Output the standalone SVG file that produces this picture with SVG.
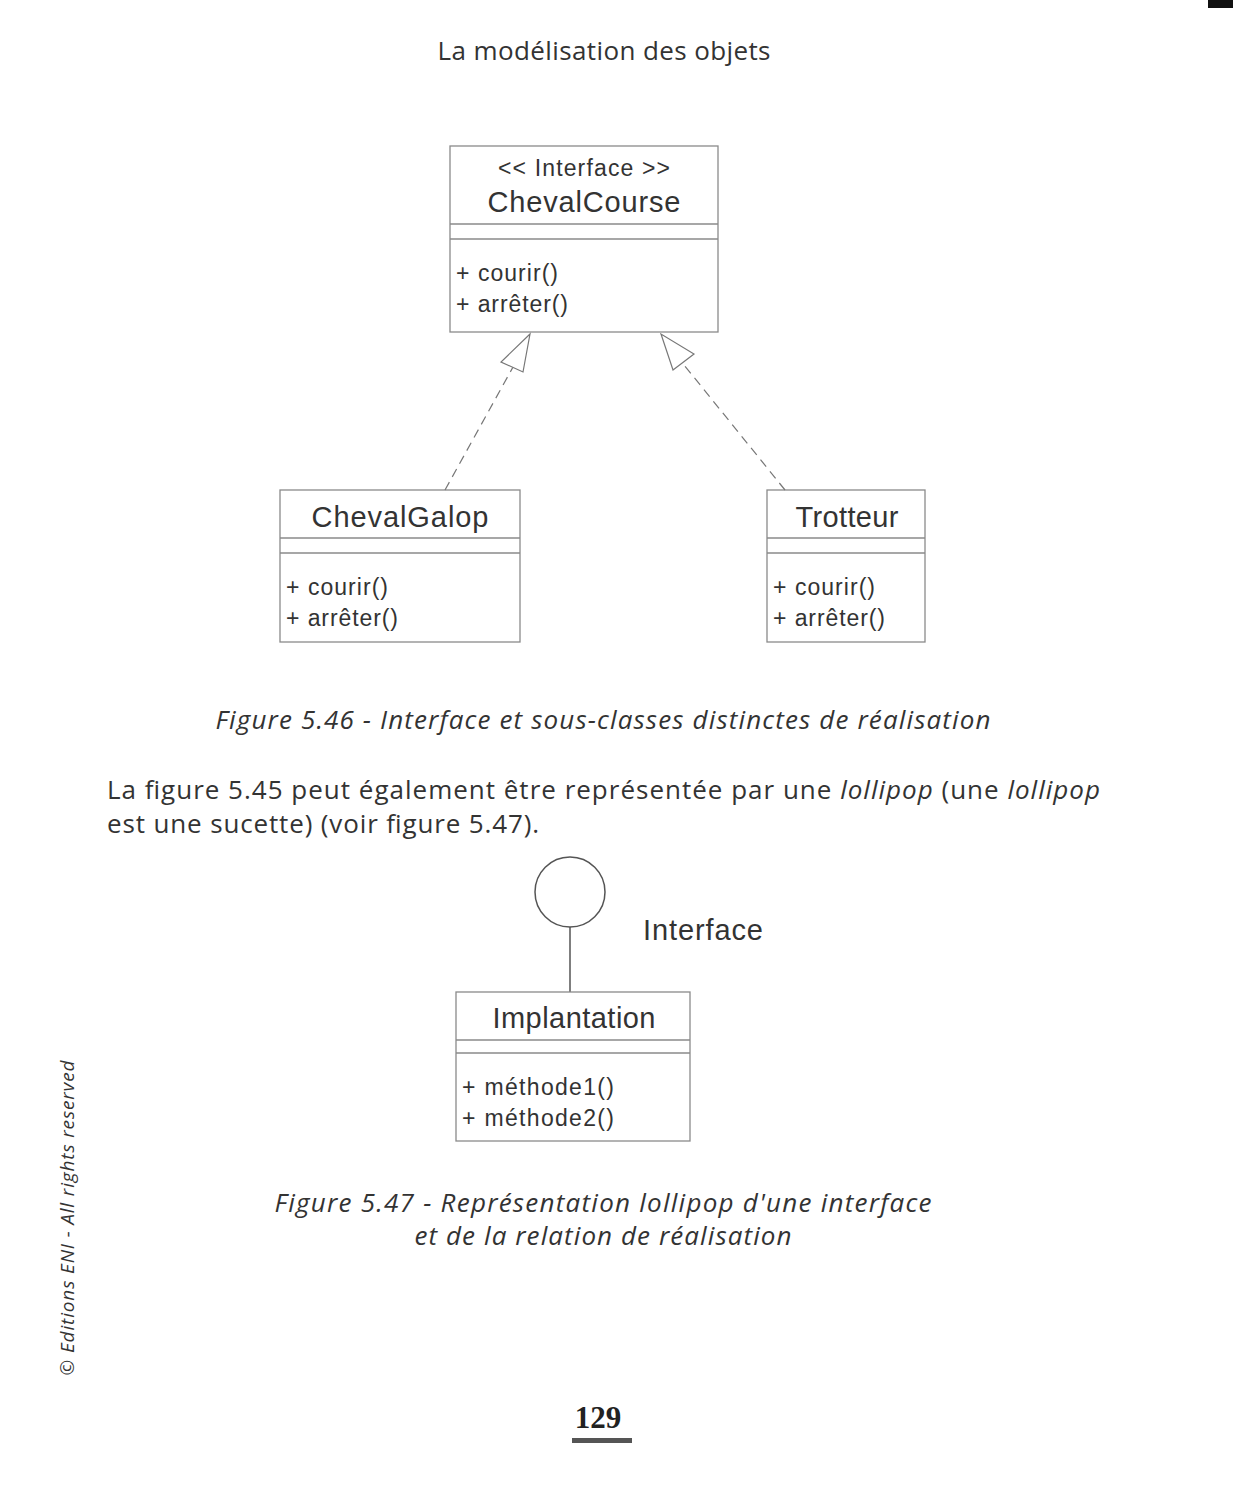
<svg xmlns="http://www.w3.org/2000/svg" width="1233" height="1500" viewBox="0 0 1233 1500">
<defs>
<style>
.box{fill:#fff;stroke:#8a8a8a;stroke-width:1.3}
.sep{stroke:#8a8a8a;stroke-width:1.3}
.t{font-family:"Liberation Sans",Arial,sans-serif;fill:#333}
.title{font-size:29px;text-anchor:middle}
.m{font-size:23px}
.page{font-family:"Open Sans","Noto Sans",sans-serif;fill:#333}
.cap{font-style:italic;font-size:26px;text-anchor:middle}
.dash{fill:none;stroke:#777;stroke-width:1.2;stroke-dasharray:9 6}
.head{fill:#fff;stroke:#777;stroke-width:1.2}
</style>
</defs>
<rect width="1233" height="1500" fill="#fff"/>
<rect x="1208" y="0" width="25" height="8" fill="#111"/>
<text class="page" x="604" y="60" font-size="26" text-anchor="middle" textLength="333">La modélisation des objets</text>

<g id="ChevalCourse">
<rect class="box" x="450" y="146" width="268" height="186"/>
<line class="sep" x1="450" y1="224" x2="718" y2="224"/>
<line class="sep" x1="450" y1="239" x2="718" y2="239"/>
<text class="t" x="584" y="176" font-size="23" text-anchor="middle" textLength="172">&lt;&lt; Interface &gt;&gt;</text>
<text class="t title" x="584" y="212" textLength="193">ChevalCourse</text>
<text class="t m" x="456" y="281" textLength="102">+ courir()</text>
<text class="t m" x="456" y="312" textLength="112">+ arrêter()</text>
</g>

<g id="ChevalGalop">
<rect class="box" x="280" y="490" width="240" height="152"/>
<line class="sep" x1="280" y1="538" x2="520" y2="538"/>
<line class="sep" x1="280" y1="553" x2="520" y2="553"/>
<text class="t title" x="400" y="527" textLength="177">ChevalGalop</text>
<text class="t m" x="286" y="595" textLength="102">+ courir()</text>
<text class="t m" x="286" y="626" textLength="112">+ arrêter()</text>
</g>

<g id="Trotteur">
<rect class="box" x="767" y="490" width="158" height="152"/>
<line class="sep" x1="767" y1="538" x2="925" y2="538"/>
<line class="sep" x1="767" y1="553" x2="925" y2="553"/>
<text class="t title" x="847" y="527" textLength="103">Trotteur</text>
<text class="t m" x="773" y="595" textLength="102">+ courir()</text>
<text class="t m" x="773" y="626" textLength="112">+ arrêter()</text>
</g>

<g id="connectors">
<line class="dash" x1="445" y1="490" x2="518" y2="358"/>
<polygon class="head" points="530,334 501,362 523,372"/>
<line class="dash" x1="785" y1="490" x2="680" y2="360"/>
<polygon class="head" points="661,334 673,370 694,354"/>
<line x1="570" y1="927" x2="570" y2="992" stroke="#555" stroke-width="1.5"/>
</g>

<text class="page cap" x="603" y="729" textLength="775">Figure 5.46 - Interface et sous-classes distinctes de réalisation</text>

<text class="page" x="107" y="799" font-size="26" textLength="993">La figure 5.45 peut également être représentée par une <tspan font-style="italic">lollipop</tspan> (une <tspan font-style="italic">lollipop</tspan></text>
<text class="page" x="107" y="833" font-size="26" textLength="432">est une sucette) (voir figure 5.47).</text>

<g id="Interface">
<circle cx="570" cy="892" r="35" fill="#fff" stroke="#555" stroke-width="1.5"/>
<text class="t" x="643" y="940" font-size="29" textLength="120">Interface</text>
</g>

<g id="Implantation">
<rect class="box" x="456" y="992" width="234" height="149"/>
<line class="sep" x1="456" y1="1040" x2="690" y2="1040"/>
<line class="sep" x1="456" y1="1053" x2="690" y2="1053"/>
<text class="t title" x="574" y="1028" textLength="163">Implantation</text>
<text class="t m" x="462" y="1095" textLength="152">+ méthode1()</text>
<text class="t m" x="462" y="1126" textLength="152">+ méthode2()</text>
</g>

<text class="page cap" x="603" y="1212" textLength="657">Figure 5.47 - Représentation lollipop d'une interface</text>
<text class="page cap" x="603" y="1245" textLength="377">et de la relation de réalisation</text>

<text class="page" transform="translate(74,1218) rotate(-90)" font-size="19" text-anchor="middle" fill="#555" textLength="315">© <tspan font-style="italic">Editions ENI - All rights reserved</tspan></text>

<text x="598" y="1428" font-family="Liberation Serif,serif" font-weight="bold" font-size="31" text-anchor="middle" fill="#222">129</text>
<rect x="572" y="1438" width="60" height="5" fill="#555"/>
</svg>
